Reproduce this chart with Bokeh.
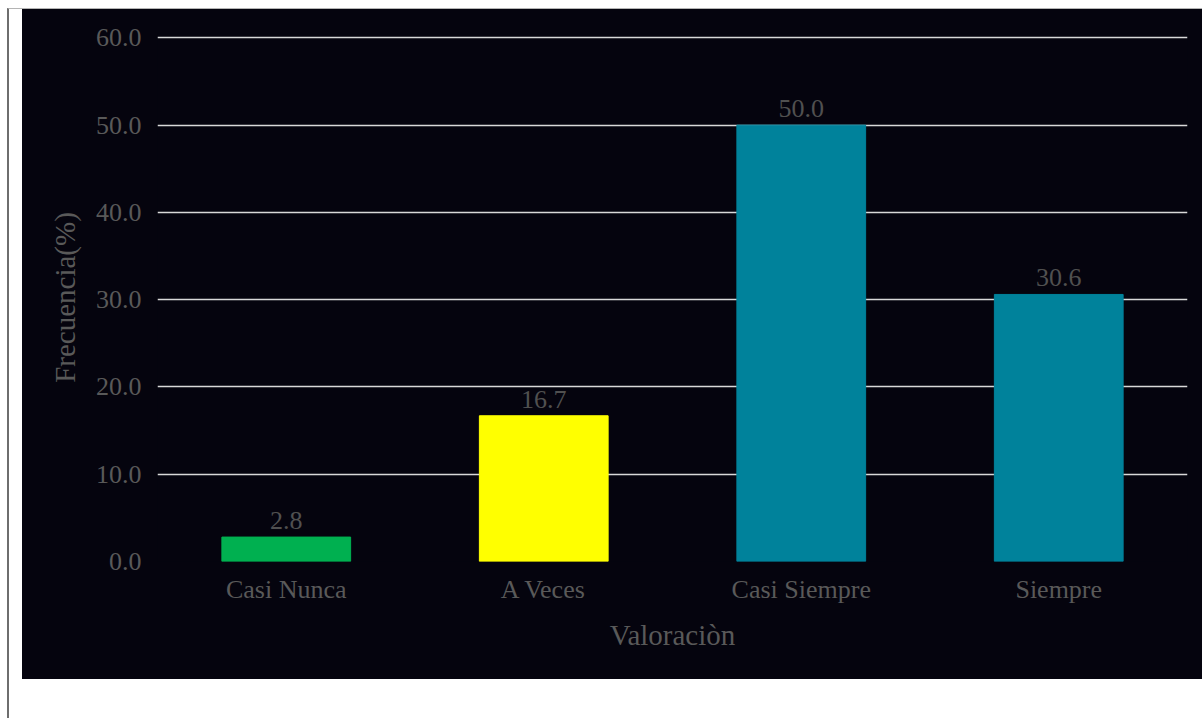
from bokeh.plotting import figure
from bokeh.models import ColumnDataSource, FixedTicker, NumeralTickFormatter
from bokeh.layouts import column
from bokeh.core.properties import value
from bokeh.embed import file_html
from bokeh.resources import INLINE

categories = ["Casi Nunca", "A Veces", "Casi Siempre", "Siempre"]
frequencies = [2.8, 16.7, 50.0, 30.6]
bar_colors = ["#00B050", "#FFFF00", "#00829B", "#00829B"]
y_ticks = [0, 10, 20, 30, 40, 50, 60]

FONT = "Liberation Serif"
BG = "#05040E"
TXT = "#595959"

src = ColumnDataSource(dict(
    cat=categories,
    val=frequencies,
    color=bar_colors,
    label=[f"{v:.1f}" for v in frequencies],
))

p = figure(x_range=categories, y_range=(0, 60.5), width=1180, height=670,
           output_backend="svg", toolbar_location=None,
           min_border_left=135, min_border_right=15, min_border_top=24, min_border_bottom=118,
           styles={"background-color": BG})
p.background_fill_color = BG
p.border_fill_color = None
p.outline_line_color = None

p.vbar(x="cat", top="val", width=0.5, color="color", source=src)
p.text(x="cat", y="val", text="label", source=src, text_align="center",
       text_baseline="bottom", y_offset=-8, text_color="#505050",
       text_font=value(FONT), text_font_size="26px")

p.xgrid.grid_line_color = None
p.ygrid.ticker = FixedTicker(ticks=y_ticks[1:])
p.ygrid.grid_line_color = "#d9d9d9"
p.ygrid.grid_line_width = 1.5

p.yaxis.ticker = FixedTicker(ticks=y_ticks)
p.yaxis.formatter = NumeralTickFormatter(format="0.0")
for ax in (p.xaxis[0], p.yaxis[0]):
    ax.axis_line_color = None
    ax.major_tick_line_color = None
    ax.minor_tick_line_color = None
    ax.major_label_text_font = FONT
    ax.major_label_text_font_size = "26px"
    ax.major_label_text_color = TXT
    ax.axis_label_text_font = FONT
    ax.axis_label_text_font_size = "29px"
    ax.axis_label_text_font_style = "normal"
    ax.axis_label_text_color = TXT

p.xaxis.major_label_standoff = 7
p.xaxis.axis_label_standoff = 12
p.yaxis.major_label_standoff = 10
p.yaxis.axis_label_standoff = 12

p.yaxis.axis_label = "Frecuencia(%)"
p.xaxis.axis_label = "Valoraciòn"

layout = column(p, margin=(8, 0, 0, 7),
                styles={"border-top": "1px solid #b4b4b4", "border-left": "2px solid #6e6e6e",
                        "padding-left": "13px", "background": "white", "height": "720px"})

open("out.html", "w").write(file_html(layout, INLINE))
